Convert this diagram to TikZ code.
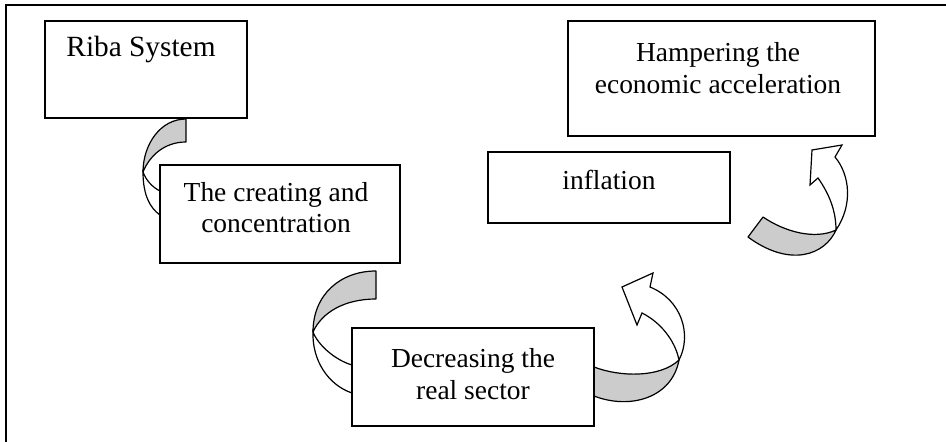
\documentclass[tikz,border=0pt]{standalone}
\usepackage{fontspec}
\setmainfont{Liberation Serif}
\begin{document}
\begin{tikzpicture}[x=0.75pt,y=-0.75pt,
  box/.style={draw=black,line width=1.3pt,fill=white,rectangle,inner sep=0pt,outer sep=0pt},
  lbl/.style={anchor=base,align=center,inner sep=0pt,font=\fontsize{20.6}{24}\selectfont},
  back/.style={draw=black,line width=0.9pt,fill=black!20,line join=round},
  front/.style={draw=black,line width=0.9pt,fill=white,line join=miter}]
\useasboundingbox (0,0) rectangle (946,442);
% outer frame
\draw[line width=1.3pt] (6,445) -- (6,5) -- (950,5);

% arrow 1: Riba -> creating
\path[front] (143,172) .. controls (143,195) and (150,208) .. (160,215)
  -- (160,191) .. controls (152,187) and (146,180) .. (143,172) -- cycle;
\path[back] (186,119) .. controls (160,119) and (143,145) .. (143,172)
  .. controls (150,155) and (165,142) .. (186,142) -- cycle;

% arrow 2: creating -> decreasing
\path[front] (313,332) .. controls (312,360) and (328,385) .. (352,393)
  -- (352,365) .. controls (335,360) and (318,345) .. (313,332) -- cycle;
\path[back] (376,271) .. controls (340,271) and (313,295) .. (313,332)
  .. controls (322,312) and (345,299) .. (376,299) -- cycle;

% arrow 3: decreasing -> inflation
\path[front] (679,360) .. controls (692,335) and (682,300) .. (650,287)
  -- (653,273) -- (622,287) -- (637,325) -- (642,313)
  .. controls (660,322) and (675,340) .. (679,360) -- cycle;
\path[back] (594,367) .. controls (620,377) and (660,378) .. (679,360)
  .. controls (672,398) and (630,410) .. (594,396) -- cycle;

% arrow 4: inflation -> hampering
\path[front] (836,230) .. controls (853,205) and (850,175) .. (835,157)
  -- (842,145) -- (812,150) -- (810,185) -- (818,178)
  .. controls (830,195) and (836,212) .. (836,230) -- cycle;
\path[back] (763,217) .. controls (785,232) and (815,240) .. (836,230)
  .. controls (825,255) and (790,268) .. (748,237) -- cycle;

% boxes
\node[box,minimum width=151.5pt,minimum height=72.75pt] (riba) at (146,69.5) {};
\node[box,minimum width=230.25pt,minimum height=86.25pt] (hamp) at (721.5,78.5) {};
\node[box,minimum width=181.5pt,minimum height=53.25pt] (infl) at (609,187.5) {};
\node[box,minimum width=180pt,minimum height=73.5pt] (crea) at (280,214) {};
\node[box,minimum width=181.5pt,minimum height=73.5pt] (decr) at (473,377) {};

% texts (base anchor = baseline of the last line)
\node[lbl,font=\fontsize{22}{24}\selectfont] (ribat) at (141,57) {Riba System};
\node[lbl] (hampt) at (718,94) {Hampering the\\economic acceleration};
\node[lbl] (inflt) at (609,190) {inflation};
\node[lbl,font=\fontsize{20.6}{23.3}\selectfont] (creat) at (276,233) {The creating and\\concentration};
\node[lbl] (decrt) at (473,399) {Decreasing the\\real sector};
\end{tikzpicture}
\end{document}
